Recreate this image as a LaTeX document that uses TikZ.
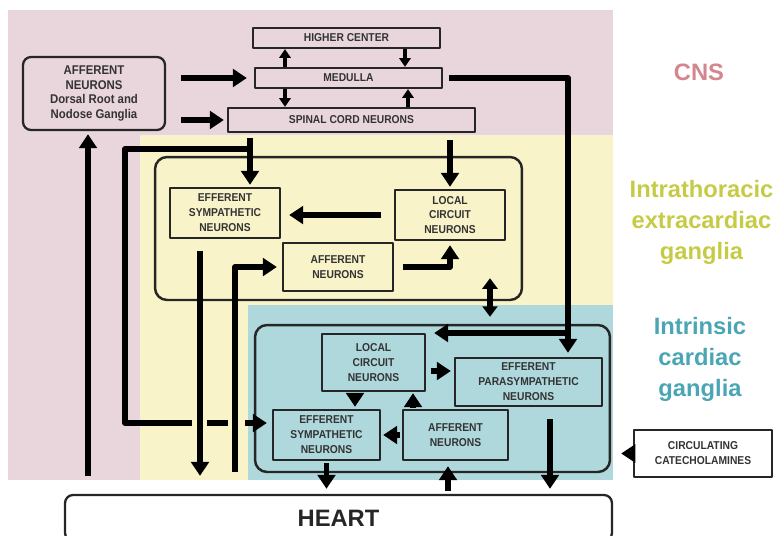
\documentclass[tikz,border=0pt]{standalone}
\usepackage{fontspec}
\setmainfont{Liberation Sans}
\newfontfamily\boxfont{Liberation Sans}[FakeStretch=0.9]
\usetikzlibrary{arrows.meta}
\definecolor{cnsbg}{HTML}{E9D6DC}
\definecolor{itebg}{HTML}{F8F3C9}
\definecolor{icgbg}{HTML}{AFD8DC}
\definecolor{cnstext}{HTML}{D4868F}
\definecolor{itetext}{HTML}{C6CB45}
\definecolor{icgtext}{HTML}{4AA5B5}
\tikzset{
	box/.style={draw=black!85, line width=1.3pt, align=center, inner sep=0pt, text=black!80,
		font=\boxfont\bfseries\fontsize{6.5}{8.5}\selectfont},
	grp/.style={draw=black!85, line width=1.4pt, rounded corners=0.24cm, inner sep=0pt},
	fat/.style={line width=3.4pt, -{Triangle[length=8pt,width=10pt]}},
	bar/.style={line width=3.4pt},
	small/.style={line width=2.2pt, -{Triangle[length=5pt,width=6.5pt]}},
	dbl/.style={line width=3pt, {Triangle[length=6pt,width=8.5pt]}-{Triangle[length=6pt,width=8.5pt]}},
	region/.style={font=\bfseries\fontsize{13.5}{17.6}\selectfont, align=center}
}
\begin{document}
\begin{tikzpicture}[x=0.02cm, y=-0.02cm, line join=round, >=stealth]
	\useasboundingbox (0,0) rectangle (774,535);
	\clip (0,0) rectangle (774,535);
	% backgrounds
	\fill[cnsbg] (8,10) rectangle (613,480);
	\fill[itebg] (140,135) rectangle (613,480);
	\fill[icgbg] (248,305) rectangle (613,480);
	% columns and rows
	\path
	(285,0) coordinate (cl) (405,0) coordinate (cr) (408,0) coordinate (cr2)
	(568,0) coordinate (cm) (250,0) coordinate (cs) (125,0) coordinate (cw)
	(200,0) coordinate (ca) (235,0) coordinate (cb) (490,0) coordinate (cd)
	(355,0) coordinate (ce) (413,0) coordinate (cf) (550,0) coordinate (cg)
	(448,0) coordinate (ch) (88,0) coordinate (ck)
	(192,0) coordinate (g1) (207,0) coordinate (g2) (228,0) coordinate (g3) (245,0) coordinate (g4)
	(0,149) coordinate (yt) (0,423) coordinate (yc) (0,333) coordinate (yb) (0,371) coordinate (yp)
	;
	% ganglia groups
	\node[grp, minimum width=7.34cm, minimum height=2.86cm] (ygrp) at (338.5,228.5) {};
	\node[grp, minimum width=7.1cm, minimum height=2.94cm] (bgrp) at (432.5,398.5) {};
	% CNS
	\node[box, minimum width=3.74cm, minimum height=0.4cm] (hc) at (346.5,38) {HIGHER CENTER};
	\node[box, minimum width=3.74cm, minimum height=0.4cm] (med) at (348.5,78) {MEDULLA};
	\node[box, minimum width=4.94cm, minimum height=0.48cm] (spc) at (351.5,120) {SPINAL CORD NEURONS};
	\node[box, rounded corners=0.16cm, minimum width=2.84cm, minimum height=1.46cm,
		font=\boxfont\bfseries\fontsize{7.2}{8.5}\selectfont] (aff) at (94,93.5)
		{AFFERENT\\NEURONS\\Dorsal Root and\\Nodose Ganglia};
	% intrathoracic extracardiac ganglia
	\node[box, minimum width=2.2cm, minimum height=1cm] (esy) at (225,213) {EFFERENT\\SYMPATHETIC\\NEURONS};
	\node[box, minimum width=2.2cm, minimum height=1cm] (lcy) at (450,215) {LOCAL\\CIRCUIT\\NEURONS};
	\node[box, minimum width=2.2cm, minimum height=0.96cm] (afy) at (338,267) {AFFERENT\\NEURONS};
	% intrinsic cardiac ganglia
	\node[box, minimum width=2.06cm, minimum height=1.14cm] (lcb) at (373.5,362.5) {LOCAL\\CIRCUIT\\NEURONS};
	\node[box, minimum width=2.94cm, minimum height=0.96cm] (epb) at (528.5,382) {EFFERENT\\PARASYMPATHETIC\\NEURONS};
	\node[box, minimum width=2.14cm, minimum height=1cm] (esb) at (326.5,435) {EFFERENT\\SYMPATHETIC\\NEURONS};
	\node[box, minimum width=2.1cm, minimum height=1cm] (afb) at (455.5,435) {AFFERENT\\NEURONS};
	% outside
	\node[box, fill=white, minimum width=2.76cm, minimum height=0.94cm] (cat) at (703,453.5) {CIRCULATING\\CATECHOLAMINES};
	\node[box, fill=white, rounded corners=0.16cm, minimum width=10.94cm, minimum height=0.92cm,
		font=\bfseries\fontsize{13.5}{15}\selectfont, text=black!85] (heart) at (338.5,518) {HEART};
	% region labels
	\node[region, text=cnstext] (cns) at (699,72) {CNS};
	\node[region, text=itetext] (ite) at (701.5,222) {Intrathoracic\\extracardiac\\ganglia};
	\node[region, text=icgtext] (icg) at (700,359) {Intrinsic\\cardiac\\ganglia};
	% CNS connections
	\draw[fat, shorten <=0.3cm, shorten >=0.14cm] (aff.east |- med) -- (med.west);
	\draw[fat, shorten <=0.3cm, shorten >=0.06cm] (aff.east |- spc) -- (spc.west);
	\draw[small] (med.north -| cl) -- (hc.south -| cl);
	\draw[small] (med.south -| cl) -- (spc.north -| cl);
	\draw[small] (hc.south -| cr) -- (med.north -| cr);
	\draw[small] (spc.north -| cr2) -- (med.south -| cr2);
	\draw[fat, shorten <=0.12cm, shorten >=0.08cm] (med.east) -| (cm |- epb.north);
	\draw[fat, shorten >=0.16cm] (yb -| cm) -- (yb -| lcb.east);
	% down from the spinal cord
	\draw[fat, shorten <=0.1cm, shorten >=0.04cm] (spc.south -| cs) -- (esy.north -| cs);
	\draw[bar] (yt -| cs) -| (yc -| cw) -- (yc -| g1);
	\draw[bar] (yc -| g2) -- (yc -| g3);
	\draw[fat, shorten >=0.1cm] (yc -| g4) -- (yc -| esb.west);
	\draw[fat, shorten <=0.14cm, shorten >=0.04cm] (spc.south -| lcy) -- (lcy.north);
	% intrathoracic
	\draw[fat, shorten <=0.26cm, shorten >=0.16cm] (lcy.west) -- (lcy.west -| esy.east);
	\draw[fat, shorten <=0.24cm, shorten >=0.36cm] (esy.south -| ca) -- (heart.north -| ca);
	\draw[fat, shorten <=0.44cm, shorten >=0.1cm] (heart.north -| cb) |- (afy.west);
	\draw[fat, shorten <=0.18cm, shorten >=0.08cm] (afy.east) -| (lcy.south);
	\draw[dbl] ([yshift=0.46cm]ygrp.south -| cd) -- ([yshift=0.14cm]bgrp.north -| cd);
	% intrinsic
	\draw[fat, shorten <=0.1cm, shorten >=0.06cm] (lcb.east |- yp) -- (epb.west |- yp);
	\draw[fat, shorten <=0.04cm, shorten >=0.04cm] (lcb.south -| ce) -- (esb.north -| ce);
	\draw[fat, shorten <=0.02cm, shorten >=0.02cm] (afb.north -| cf) -- (lcb.south -| cf);
	\draw[fat, shorten <=0.04cm, shorten >=0.04cm] (afb.west) -- (esb.east);
	\draw[fat, shorten <=0.24cm, shorten >=0.1cm] (epb.south -| cg) -- (heart.north -| cg);
	\draw[fat, shorten <=0.04cm, shorten >=0.1cm] (esb.south) -- (heart.north -| esb);
	\draw[fat, shorten <=0.06cm, shorten >=0.1cm] (heart.north -| ch) -- (afb.south -| ch);
	\draw[fat, shorten >=0.2cm] (cat.west) -- (cat.west -| bgrp.east);
	\draw[fat, shorten <=0.36cm, shorten >=0.06cm] (heart.north -| ck) -- (aff.south -| ck);
\end{tikzpicture}
\end{document}
